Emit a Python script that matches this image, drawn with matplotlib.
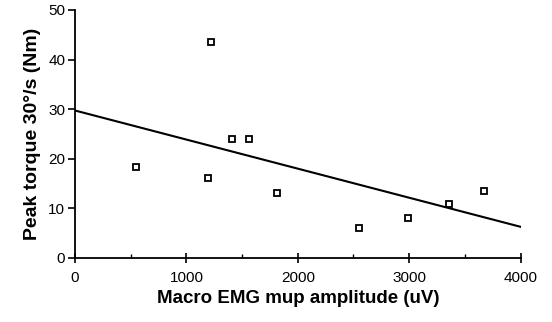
import matplotlib.pyplot as plt
import numpy as np

plt.rcParams["font.family"] = ["Liberation Sans", "DejaVu Sans"]

# Macro EMG amplitude (uV) vs peak torque at 30 deg/s (Nm)
amplitude = [550, 1218, 1197, 1406, 1559, 1813, 2552, 2986, 3357, 3671]
torque = [18.2, 43.5, 16.1, 24.0, 24.0, 13.1, 5.9, 8.0, 10.8, 13.4]

# regression line
fit_intercept = 29.7
fit_slope = -0.00587
fit_range = [0, 4000]

fig = plt.figure(figsize=(5.52, 3.22), dpi=100)
ax = fig.add_axes([0.136, 0.2, 0.807, 0.769])

ax.plot(amplitude, torque, linestyle="none", marker="s", markersize=5,
        markerfacecolor="white", markeredgecolor="black", markeredgewidth=1.3)

fx = np.array(fit_range)
ax.plot(fx, fit_intercept + fit_slope * fx, color="black", linewidth=1.5)

ax.set_xlim(0, 4000)
ax.set_ylim(0, 50)
ax.set_xticks([0, 1000, 2000, 3000, 4000])
ax.set_xticks([500, 1500, 2500, 3500], minor=True)
ax.set_yticks([0, 10, 20, 30, 40, 50])

for side in ["top", "right"]:
    ax.spines[side].set_visible(False)
ax.spines["left"].set_linewidth(1.3)
ax.spines["bottom"].set_linewidth(1.3)

ax.tick_params(axis="y", direction="out", length=5, width=1.2, labelsize=11, pad=2)
ax.tick_params(axis="x", which="major", direction="inout", length=7, width=1.2,
               labelsize=11, pad=6)
ax.tick_params(axis="x", which="minor", direction="in", length=3, width=1.0)

ax.set_xlabel("Macro EMG mup amplitude (uV)", fontsize=13.5, fontweight="bold", labelpad=4)
ax.set_ylabel("Peak torque 30°/s (Nm)", fontsize=14, fontweight="bold", labelpad=5)

fig.savefig("out.png", dpi=100)
